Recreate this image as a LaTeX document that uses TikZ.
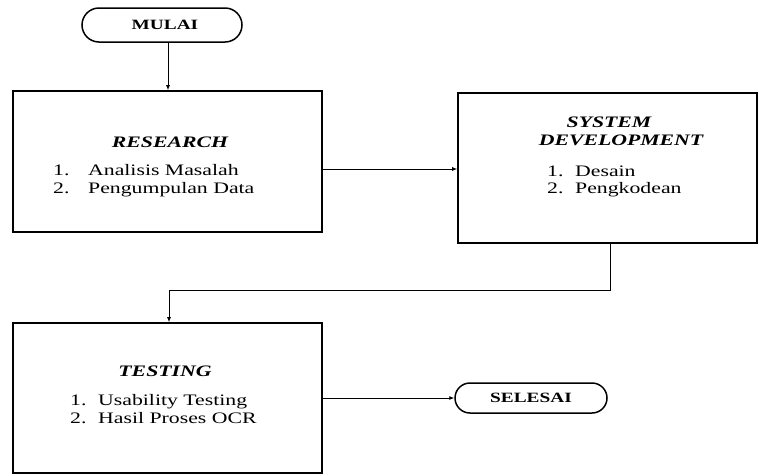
\documentclass[tikz,border=0pt]{standalone}
\usepackage{fontspec}
\setmainfont{Liberation Serif}[FakeStretch=1.36]
\usetikzlibrary{arrows.meta}
\begin{document}
\begin{tikzpicture}[x=1pt,y=-1pt,
  box/.style={draw, line width=1.6pt, minimum width=#1, inner sep=0pt},
  term/.style={draw, line width=1.5pt, inner sep=0pt, font=\fontsize{14.2}{17}\selectfont\bfseries},
  arr/.style={line width=0.8pt, -{Latex[length=5pt,width=4pt]}},
  ttl/.style={anchor=base, inner sep=0pt, font=\fontsize{16}{18}\selectfont\bfseries\itshape},
  itm/.style={anchor=base west, inner sep=0pt, font=\fontsize{16}{18}\selectfont},
]
\useasboundingbox (0,0) rectangle (759,475);
% terminators
\node[term, minimum width=160pt, minimum height=34pt, rounded corners=17pt] (mulai) at (162,25) {\hspace*{6pt}MULAI};
\node[term, minimum width=152pt, minimum height=30pt, rounded corners=15pt] (selesai) at (531,398) {SELESAI};
% boxes
\node[box=309pt, minimum height=141pt] (research) at (167.5,161.5) {};
\node[box=299pt, minimum height=150pt] (sd) at (607.5,168) {};
\node[box=309pt, minimum height=150pt] (testing) at (167.5,398) {};
% texts
\node[ttl] (rt) at (170,147) {RESEARCH};
\node[itm] (r1) at (53,175) {\makebox[35pt][l]{1.}Analisis Masalah};
\node[itm] (r2) at (53,193) {\makebox[35pt][l]{2.}Pengumpulan Data};
\node[ttl] (st1) at (609,127) {SYSTEM};
\node[ttl] (st2) at (621,145) {DEVELOPMENT};
\node[itm] (s1) at (547,176) {\makebox[28pt][l]{1.}Desain};
\node[itm] (s2) at (547,193) {\makebox[28pt][l]{2.}Pengkodean};
\node[ttl] (tt) at (165,376) {TESTING};
\node[itm] (t1) at (70,405) {\makebox[28pt][l]{1.}Usability Testing};
\node[itm] (t2) at (70,423) {\makebox[28pt][l]{2.}Hasil Proses OCR};
% helper coordinates
\coordinate (c1) at (168,0);
\coordinate (c2) at (169,0);
\coordinate (ra) at (0,169);
\coordinate (bend) at (610,290);
% connectors
\draw[arr] (mulai.south -| c1) -- (research.north -| c1);
\draw[arr] (research.east |- ra) -- (sd.west |- ra);
\draw[arr] (sd.south -| bend) -- (bend) -- (bend -| c2) -- (testing.north -| c2);
\draw[arr] (testing.east) -- (selesai.west);
\end{tikzpicture}
\end{document}
